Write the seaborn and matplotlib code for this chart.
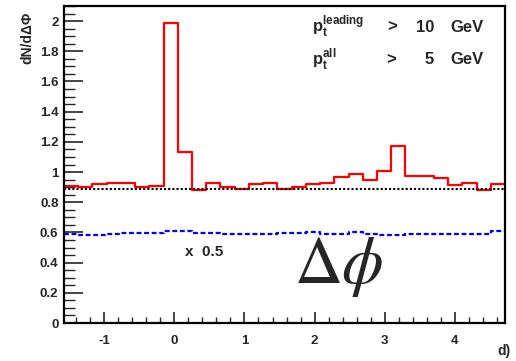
import numpy as np
import pandas as pd
import matplotlib
matplotlib.use("Agg")
import matplotlib.pyplot as plt
import seaborn as sns
from matplotlib.ticker import MultipleLocator, FuncFormatter

# ---- data ----
x_min = -np.pi / 2
x_max = 3 * np.pi / 2
n_bins = 31
red_values = [0.91, 0.90, 0.92, 0.93, 0.93, 0.90, 0.91, 1.985, 1.13, 0.88,
              0.93, 0.90, 0.885, 0.92, 0.93, 0.885, 0.90, 0.92, 0.93, 0.967,
              0.99, 0.95, 1.005, 1.17, 0.975, 0.975, 0.963, 0.916, 0.927, 0.88,
              0.923]
blue_values = [0.588, 0.581, 0.583, 0.588, 0.594, 0.594, 0.594, 0.607, 0.607, 0.599,
               0.599, 0.588, 0.588, 0.590, 0.590, 0.599, 0.599, 0.601, 0.588, 0.592,
               0.601, 0.592, 0.585, 0.585, 0.588, 0.590, 0.592, 0.592, 0.592, 0.590,
               0.610]
pedestal = 0.89
y_ticks = [0, 0.2, 0.4, 0.6, 0.8, 1, 1.2, 1.4, 1.6, 1.8, 2]
x_ticks = [-1, 0, 1, 2, 3, 4]

edges = np.linspace(x_min, x_max, n_bins + 1)
centers = 0.5 * (edges[:-1] + edges[1:])

W, H = 516, 361
fig = plt.figure(figsize=(W / 100, H / 100), dpi=100)
sns.set_style("ticks")
plt.rcParams['font.family'] = ['Liberation Sans', 'DejaVu Sans']
plt.rcParams['mathtext.fontset'] = 'custom'
plt.rcParams['mathtext.bf'] = 'Liberation Sans:bold'
plt.rcParams['mathtext.rm'] = 'Liberation Sans:bold'

ax = fig.add_axes([64 / W, 1 - 323 / H, (505 - 64) / W, (323 - 6) / H])

# red histogram
red_df = pd.DataFrame({"x": centers, "w": red_values})
sns.histplot(data=red_df, x="x", weights="w", bins=n_bins, binrange=(x_min, x_max),
             element="step", fill=False, color="red", linewidth=1.6, ax=ax)

# blue dashed (scaled) distribution
blue_df = pd.DataFrame({"x": np.append(edges[:-1], edges[-1]),
                        "y": np.append(blue_values, blue_values[-1])})
sns.lineplot(data=blue_df, x="x", y="y", drawstyle="steps-post", color="#0000ff",
             linewidth=1.6, linestyle=(0, (2.2, 1.2)), estimator=None, ax=ax)

ax.axhline(pedestal, color="black", linestyle=(0, (1, 1)), linewidth=1.5)

ax.set_xlim(x_min, x_max)
ax.set_ylim(0, 2.1)
ax.set_xlabel("")
ax.set_ylabel("")

for s in ax.spines.values():
    s.set_visible(True)
    s.set_linewidth(1.6)
    s.set_color("black")

ax.set_xticks(x_ticks)
ax.set_yticks(y_ticks)
ax.xaxis.set_minor_locator(MultipleLocator(0.2))
ax.yaxis.set_minor_locator(MultipleLocator(0.05))
ax.yaxis.set_major_formatter(FuncFormatter(lambda v, p: "%g" % v))
ax.xaxis.set_major_formatter(FuncFormatter(lambda v, p: "%g" % v))
ax.tick_params(axis="x", which="major", direction="in", length=8, width=1.2,
               pad=9, labelsize=9.5, top=False)
ax.tick_params(axis="x", which="minor", direction="in", length=4.5, width=1.0, top=False)
ax.tick_params(axis="y", which="major", direction="in", length=14, width=1.2,
               pad=4, labelsize=9.5, right=False)
ax.tick_params(axis="y", which="minor", direction="in", length=8, width=1.0, right=False)
for lab in ax.get_xticklabels() + ax.get_yticklabels():
    lab.set_fontweight("bold")

def fx(px):
    return px / W

def fy(py):
    return 1 - py / H

# y label
fig.text(fx(27), fy(12), "dN/dΔΦ", rotation=90, ha="center", va="top",
         fontsize=10, fontweight="bold")
# x label
fig.text(fx(504), fy(355), "d)", ha="center", va="baseline",
         fontsize=10, fontweight="bold")

# cut texts
fs = 12
fig.text(fx(312), fy(31.5), r"$\mathbf{p}_\mathbf{t}^\mathbf{leading}$",
         ha="left", va="baseline", fontsize=fs)
fig.text(fx(387), fy(31.5), ">", ha="left", va="baseline", fontsize=fs, fontweight="bold")
fig.text(fx(434), fy(31.5), "10", ha="right", va="baseline", fontsize=fs, fontweight="bold")
fig.text(fx(450), fy(31.5), "GeV", ha="left", va="baseline", fontsize=fs, fontweight="bold")
fig.text(fx(312), fy(64), r"$\mathbf{p}_\mathbf{t}^\mathbf{all}$",
         ha="left", va="baseline", fontsize=fs)
fig.text(fx(386), fy(64), ">", ha="left", va="baseline", fontsize=fs, fontweight="bold")
fig.text(fx(434), fy(64), "5", ha="right", va="baseline", fontsize=fs, fontweight="bold")
fig.text(fx(450), fy(64), "GeV", ha="left", va="baseline", fontsize=fs, fontweight="bold")

fig.text(fx(185), fy(256), "x  0.5", ha="left", va="baseline", fontsize=11, fontweight="bold")

fig.text(fx(295), fy(283), "Δ", ha="left", va="baseline", fontsize=48,
         family=["STIXGeneral", "Liberation Serif", "DejaVu Serif"])
fig.text(fx(341), fy(283), r"$\phi$", ha="left", va="baseline", fontsize=48,
         math_fontfamily="stix")

fig.savefig("out.png", dpi=100)
